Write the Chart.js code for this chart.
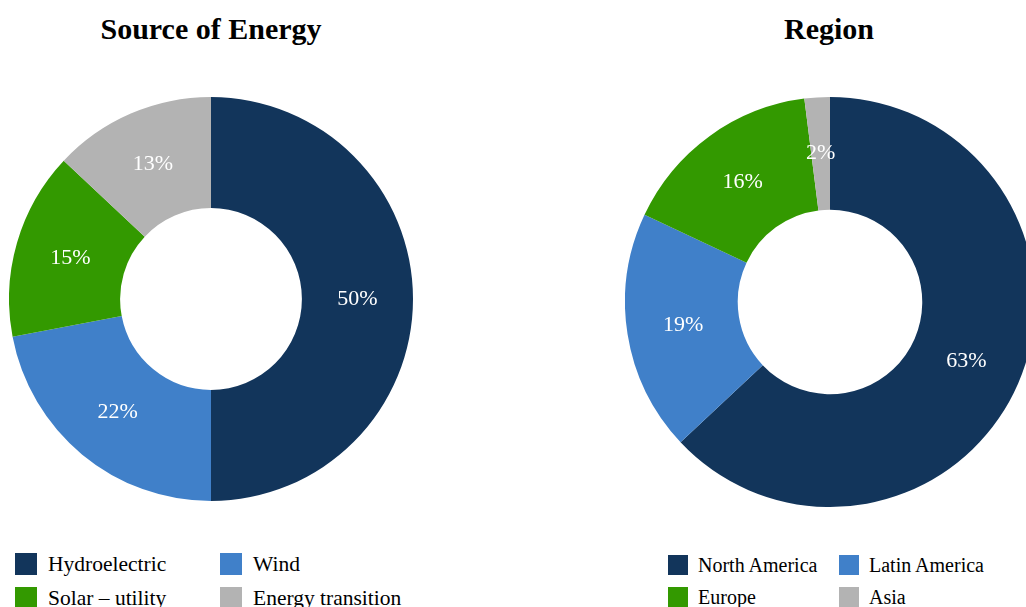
<!DOCTYPE html>
<html>
<head>
<meta charset="utf-8">
<script src="https://cdn.jsdelivr.net/npm/chart.js@4.4.1/dist/chart.umd.min.js"></script>
<style>
  html, body { margin: 0; padding: 0; background: #fff; width: 1026px; height: 607px; overflow: hidden; }
  body { position: relative; font-family: "Liberation Serif", "Times New Roman", serif; color: #000; }
  .title { position: absolute; top: 12px; font-weight: bold; font-size: 30px; text-align: center; width: 400px; }
  .wrap { position: absolute; }
  .legend { position: absolute; display: grid; grid-template-columns: auto auto; row-gap: 0; font-family: "Liberation Serif", "Times New Roman", serif; }
  .legend .item { display: flex; align-items: center; white-space: nowrap; }
  .legend .box { display: inline-block; flex: none; }
</style>
</head>
<body>
<div class="title" style="left:11px;">Source of Energy</div>
<div class="title" style="left:629px;">Region</div>

<div class="wrap" style="left:9px; top:97px; width:404px; height:404px;"><canvas id="chartEnergy"></canvas></div>
<div class="wrap" style="left:625px; top:97px; width:410px; height:410px;"><canvas id="chartRegion"></canvas></div>

<div class="legend" id="legendEnergy" style="left:15px; top:547px; font-size:21.5px; grid-template-columns: 205px auto;"></div>
<div class="legend" id="legendRegion" style="left:668px; top:549px; font-size:20px; grid-template-columns: 171px auto;"></div>

<script>
// --- dados ---
const energyLabels = ['Hydroelectric', 'Wind', 'Solar \u2013 utility', 'Energy transition'];
const energyValues = [50, 22, 15, 13];

const regionLabels = ['North America', 'Latin America', 'Europe', 'Asia'];
const regionValues = [63, 19, 16, 2];

const colors = ['#12355b', '#4080c9', '#339900', '#b3b3b3'];

// rótulos de percentagem no meio de cada fatia
const pctLabels = {
    id: 'pctLabels',
    afterDatasetsDraw(chart) {
        const ctx = chart.ctx;
        const meta = chart.getDatasetMeta(0);
        const data = chart.data.datasets[0].data;
        const total = data.reduce((a, b) => a + b, 0);
        ctx.save();
        ctx.fillStyle = '#ffffff';
        ctx.font = '22px "Liberation Serif", serif';
        ctx.textAlign = 'center';
        ctx.textBaseline = 'middle';
        meta.data.forEach((arc, i) => {
            const p = arc.tooltipPosition();
            ctx.fillText(Math.round(data[i] / total * 100) + '%', p.x, p.y);
        });
        ctx.restore();
    }
};

function renderDonut(id, labels, values) {
    const ctx = document.getElementById(id).getContext('2d');
    return new Chart(ctx, {
        type: 'doughnut',
        data: {
            labels: labels,
            datasets: [{
                data: values,
                backgroundColor: colors,
                borderWidth: 0
            }]
        },
        options: {
            responsive: true,
            maintainAspectRatio: false,
            animation: false,
            cutout: '45%',
            layout: { padding: 0 },
            plugins: {
                legend: { display: false },
                tooltip: { enabled: false }
            }
        },
        plugins: [pctLabels]
    });
}

function renderLegend(id, labels, boxSize, gap, rowH) {
    const el = document.getElementById(id);
    labels.forEach((lab, i) => {
        el.innerHTML += `<div class="item" style="height:${rowH}px">
            <span class="box" style="width:${boxSize}px;height:${boxSize}px;background:${colors[i]};margin-right:${gap}px"></span>
            <span>${lab}</span></div>`;
    });
}

renderDonut('chartEnergy', energyLabels, energyValues);
renderDonut('chartRegion', regionLabels, regionValues);
renderLegend('legendEnergy', energyLabels, 22, 11, 34);
renderLegend('legendRegion', regionLabels, 20, 10, 32);
</script>
</body>
</html>
